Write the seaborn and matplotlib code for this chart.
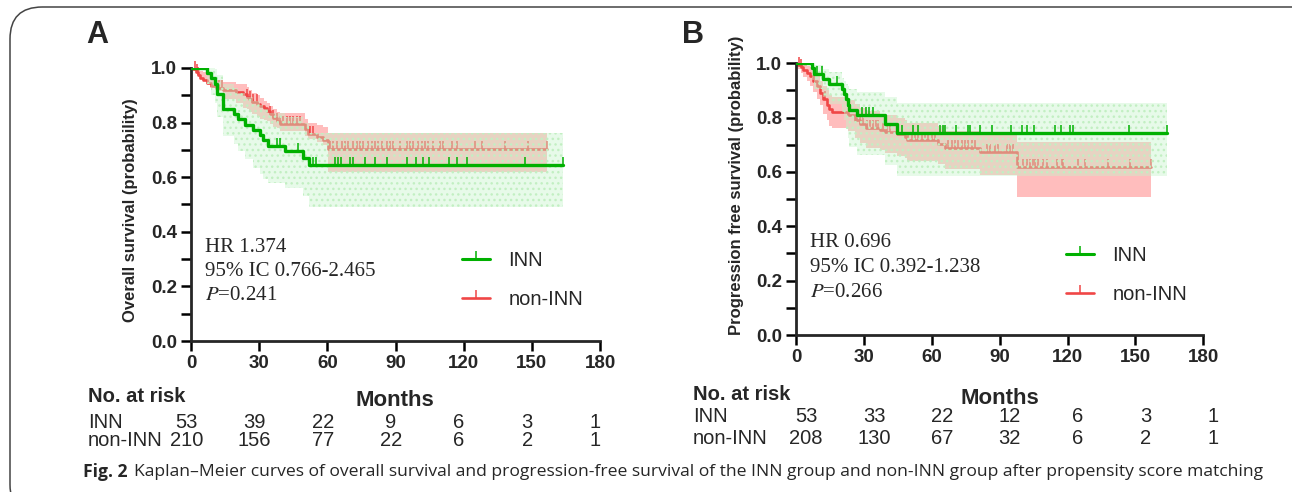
import numpy as np
import matplotlib
matplotlib.use("Agg")
import matplotlib.pyplot as plt
import seaborn as sns
from matplotlib.lines import Line2D
from matplotlib.patches import FancyBboxPatch
from matplotlib.transforms import blended_transform_factory

# ---- Panel A: overall survival ----
a_inn_t = [0, 7.0, 8.8, 10.5, 11.5, 13.9, 18.8, 20.5, 23.8, 27.4, 30.4, 31.8, 34.0, 41.4, 49.2, 51.9]
a_inn_s = [1.0, .981, .962, .943, .906, .850, .831, .812, .793, .774, .755, .736, .716, .696, .672, .645]
a_inn_lo = [1.0, .94, .90, .87, .82, .75, .72, .695, .665, .635, .61, .595, .578, .56, .53, .49]
a_inn_hi = [1.0, 1.0, 1.0, .995, .975, .94, .925, .91, .895, .88, .865, .85, .835, .82, .80, .763]
a_inn_end = 163.9
a_inn_cens = [37.7, 39.2, 47.2, 53.8, 55.0, 63.4, 64.8, 66.0, 70.0, 71.2, 76.6, 81.0, 86.4,
              95.2, 99.0, 102.3, 104.9, 113.7, 116.9, 121.3, 147.0, 163.9]

a_non_t = [0, 1.0, 2.0, 3.0, 4.0, 5.5, 7.0, 9.0, 11.0, 14.2, 20.0, 23.0, 24.5, 25.5, 27.0,
           29.0, 30.5, 32.0, 33.3, 34.8, 36.0, 37.7, 39.2, 50.2, 51.6, 55.3, 58.2, 60.4]
a_non_s = [1.0, .995, .985, .975, .965, .955, .945, .935, .925, .918, .912, .905, .895, .885, .875,
           .868, .86, .852, .843, .83, .818, .805, .795, .775, .76, .748, .735, .702]
a_non_lo = [1.0, .99, .98, .97, .962, .955, .948, .93, .915, .885, .87, .855, .85, .84, .83,
            .822, .815, .81, .805, .795, .785, .779, .77, .751, .74, .728, .718, .62]
a_non_hi = [1.0, 1.0, 1.0, 1.0, .99, .985, .975, .965, .955, .948, .943, .94, .93, .92, .91,
            .9, .89, .88, .87, .862, .85, .838, .835, .815, .8, .79, .785, .763]
a_non_end = 156.5
a_non_cens = [1.8, 2.5, 3.2, 12.5, 13.5, 24.5, 26.0, 27.4, 28.9, 34.8, 36.2, 37.7, 39.2, 40.6,
              42.1, 43.6, 45.0, 46.5, 48.0, 52.4, 53.8, 61.2, 62.6, 64.1, 66.3, 67.8, 69.2,
              71.5, 72.9, 74.4, 75.6, 78.0, 79.5, 81.0, 82.5, 83.9, 86.1, 87.6, 89.1, 92.0,
              94.9, 96.4, 97.9, 100.1, 101.5, 103.0, 104.5, 106.7, 109.6, 111.1, 114.7,
              116.9, 125.0, 127.9, 138.2, 148.5, 156.5]

# ---- Panel B: progression free survival ----
b_inn_t = [0, 6.9, 8.0, 12.1, 14.7, 20.2, 21.3, 22.2, 23.0, 23.6, 26.8, 39.3, 44.5]
b_inn_s = [1.0, .981, .962, .943, .924, .905, .886, .867, .848, .829, .808, .778, .745]
b_inn_lo = [1.0, .94, .905, .875, .85, .82, .79, .76, .725, .692, .662, .625, .585]
b_inn_hi = [1.0, 1.0, .995, .98, .968, .945, .935, .925, .915, .905, .895, .876, .854]
b_inn_end = 164.1
b_inn_cens = [9.1, 11.3, 18.0, 29.0, 30.9, 32.4, 33.9, 46.7, 51.8, 54.1, 63.6, 64.8, 65.8,
              70.7, 76.1, 76.9, 81.3, 86.5, 95.0, 99.7, 101.9, 105.3, 114.5, 117.1, 121.1,
              122.3, 147.3, 164.1]

b_non_t = [0, 1.0, 2.0, 3.2, 4.7, 6.2, 7.7, 9.1, 10.6, 12.1, 13.6, 14.7, 15.8, 23.1, 26.1,
           28.3, 30.9, 37.1, 39.3, 44.5, 48.2, 48.9, 62.9, 65.8, 81.3, 97.5]
b_non_s = [1.0, .995, .985, .975, .965, .952, .935, .915, .892, .868, .848, .830, .821, .809,
           .792, .775, .762, .754, .746, .738, .727, .716, .704, .690, .674, .62]
b_non_lo = [1.0, .98, .965, .95, .935, .915, .895, .87, .845, .815, .79, .77, .762, .75, .725,
            .705, .69, .68, .67, .66, .65, .64, .628, .612, .588, .508]
b_non_hi = [1.0, 1.0, 1.0, .995, .99, .985, .97, .955, .935, .915, .9, .885, .875, .865, .85,
            .835, .825, .815, .81, .8, .79, .78, .768, .752, .74, .711]
b_non_end = 156.9
b_non_cens = [1.5, 2.2, 12.8, 26.8, 28.3, 29.8, 31.5, 32.7, 34.2, 35.4, 36.4, 38.3, 40.1, 41.5,
              49.6, 51.1, 52.6, 54.0, 55.5, 57.0, 58.5, 59.9, 61.4, 67.3, 68.8, 70.3, 71.7,
              73.2, 74.7, 76.1, 77.6, 79.1, 84.3, 85.7, 87.9, 89.4, 93.1, 94.6, 95.7, 100.5,
              102.2, 103.4, 104.9, 105.6, 107.1, 109.3, 110.8, 115.2, 117.4, 118.1, 124.8,
              127.7, 138.0, 147.6, 156.9]

# risk tables
months = [0, 30, 60, 90, 120, 150, 180]
a_risk_inn = [53, 39, 22, 9, 6, 3, 1]
a_risk_non = [210, 156, 77, 22, 6, 2, 1]
b_risk_inn = [53, 33, 22, 12, 6, 3, 1]
b_risk_non = [208, 130, 67, 32, 6, 2, 1]

a_stats = ["HR 1.374", "95% IC 0.766-2.465", "0.241"]
b_stats = ["HR 0.696", "95% IC 0.392-1.238", "0.266"]

GREEN = "#00b000"
RED = "#f04646"
PINK = "#ffbdbd"
GBAND = (199 / 255, 243 / 255, 203 / 255)
SANS = "Liberation Sans"
SERIF = "Liberation Serif"

sns.set_style("ticks")
plt.rcParams["font.family"] = [SANS, "DejaVu Sans"]
plt.rcParams["hatch.linewidth"] = 1.0

fig = plt.figure(figsize=(12.92, 4.92), dpi=100)

# rounded frame of the figure panel
frame = FancyBboxPatch((10 / 1292, -0.05), 1.2, 1 - 7 / 492 + 0.05,
                       boxstyle="round,pad=0,rounding_size=0.025",
                       transform=fig.transFigure, fill=False, ec="#444444", lw=1.1,
                       mutation_aspect=2.6)
fig.patches.append(frame)


def steps(t, v, end):
    return list(t) + [end], list(v) + [v[-1]]


def km(ax, t, s, lo, hi, end, cens, line_color, band=None, lw=2.0):
    tt, ss = steps(t, s, end)
    _, ll = steps(t, lo, end)
    _, hh = steps(t, hi, end)
    z = 2
    if band is not None:
        col, alpha = band
        ax.fill_between(tt, ll, hh, step="post", color=col, alpha=alpha, lw=0, zorder=3)
        ax.fill_between(tt, ll, hh, step="post", facecolor="none", edgecolor="#c2efc2",
                        hatch="...", lw=0, zorder=3)
        z = 5
    sns.lineplot(x=tt, y=ss, ax=ax, color=line_color, lw=lw, drawstyle="steps-post",
                 estimator=None, sort=False, zorder=z)
    idx = np.searchsorted(t, cens, side="right") - 1
    ax.plot(cens, np.array(s)[idx], ls="none", marker=2, ms=6, mew=1.1,
            color=line_color, clip_on=False, zorder=z)


def panel(ax, data_inn, data_non, stats, stat_y, ylabel, ylab_xy, leg_xy):
    # red (non-INN) first, green band drawn on top with transparency
    t, s, lo, hi, end, cens = data_non
    tt, _ = steps(t, s, end)
    ax.fill_between(tt, steps(t, lo, end)[1], steps(t, hi, end)[1], step="post",
                    color=PINK, lw=0, zorder=1)
    km(ax, t, s, lo, hi, end, cens, RED, band=None, lw=1.9)
    t, s, lo, hi, end, cens = data_inn
    km(ax, t, s, lo, hi, end, cens, GREEN, band=(GBAND, 0.41), lw=2.4)

    ax.set_xlim(0, 180)
    ax.set_ylim(0, 1.0)
    ax.set_xticks(months)
    ax.set_yticks([0, 0.2, 0.4, 0.6, 0.8, 1.0])
    ax.set_yticks(np.arange(0.1, 1.0, 0.2), minor=True)
    ax.set_yticklabels(["0.0", "0.2", "0.4", "0.6", "0.8", "1.0"])
    for sp in ["top", "right"]:
        ax.spines[sp].set_visible(False)
    for sp in ["left", "bottom"]:
        ax.spines[sp].set_linewidth(2.0)
    ax.tick_params(which="both", length=7, width=1.8, color="black")
    ax.tick_params(labelsize=13.5, pad=3)
    for lab in ax.get_xticklabels() + ax.get_yticklabels():
        lab.set_fontweight("bold")
    ax.set_ylabel(ylabel, fontsize=12, fontweight="bold", va="center")
    ax.yaxis.set_label_coords(*ylab_xy)
    ax.set_xlabel("")
    ax.patch.set_alpha(0)

    ax.text(0.034, stat_y[0], stats[0], transform=ax.transAxes, family=SERIF, fontsize=15,
            va="center")
    ax.text(0.034, stat_y[1], stats[1], transform=ax.transAxes, family=SERIF, fontsize=15,
            va="center")
    ax.text(0.034, stat_y[2], "$P$=" + stats[2], transform=ax.transAxes, family=SERIF,
            fontsize=15, va="center", math_fontfamily="stix")

    handles = [Line2D([0], [0], color=GREEN, lw=2.2, marker=2, ms=6, mew=1.1),
               Line2D([0], [0], color=RED, lw=1.9, marker=2, ms=6, mew=1.1)]
    fig.legend(handles, ["INN", "non-INN"], loc="center left",
               bbox_to_anchor=(leg_xy[0] / 1292, 1 - leg_xy[1] / 492),
               frameon=False, fontsize=14.5, handlelength=1.4, handletextpad=0.9,
               labelspacing=0.95, borderpad=0, borderaxespad=0, numpoints=1)


axA = fig.add_axes([191 / 1292, 1 - 341 / 492, 409 / 1292, 273 / 492])
axB = fig.add_axes([796 / 1292, 1 - 335 / 492, 407.3 / 1292, 271.7 / 492])

panel(axA,
      (a_inn_t, a_inn_s, a_inn_lo, a_inn_hi, a_inn_end, a_inn_cens),
      (a_non_t, a_non_s, a_non_lo, a_non_hi, a_non_end, a_non_cens),
      a_stats, (0.341, 0.253, 0.165), "Overall survival (probability)", (-0.149, 0.48),
      (462, 280))
panel(axB,
      (b_inn_t, b_inn_s, b_inn_lo, b_inn_hi, b_inn_end, b_inn_cens),
      (b_non_t, b_non_s, b_non_lo, b_non_hi, b_non_end, b_non_cens),
      b_stats, (0.339, 0.247, 0.158), "Progression free survival (probability)",
      (-0.145, 0.55), (1066, 275))

fig.text(97 / 1292, 1 - 35 / 492, "A", fontsize=22, fontweight="bold", va="center", ha="center")
fig.text(693 / 1292, 1 - 35 / 492, "B", fontsize=22, fontweight="bold", va="center", ha="center")


def risk_table(ax, x0, ys, inn, non, shift, months_x):
    tr = blended_transform_factory(ax.transData, fig.transFigure)
    fig.text(x0 / 1292, 1 - ys[0] / 492, "No. at risk", fontsize=14.5, fontweight="bold",
             va="center")
    fig.text(months_x / 1292, 1 - (ys[0] + 3) / 492, "Months", fontsize=16,
             fontweight="bold", va="center", ha="center")
    fig.text(x0 / 1292, 1 - ys[1] / 492, "INN", fontsize=14.5, va="center")
    fig.text(x0 / 1292, 1 - ys[2] / 492, "non-INN", fontsize=14.5, va="center")
    for m, a, b in zip(months, inn, non):
        ax.text(m + shift, 1 - ys[1] / 492, str(a), transform=tr, fontsize=14.5,
                ha="center", va="center", clip_on=False)
        ax.text(m + shift, 1 - ys[2] / 492, str(b), transform=tr, fontsize=14.5,
                ha="center", va="center", clip_on=False)


risk_table(axA, 88, (397, 422, 441), a_risk_inn, a_risk_non, -2.0, 395)
risk_table(axB, 693, (395, 416, 438), b_risk_inn, b_risk_non, 4.5, 1000)

fig.text(83 / 1292, 1 - 472 / 492, "Fig. 2", fontsize=12.6, fontweight="bold", va="center",
         family="Open Sans")
fig.text(134 / 1292, 1 - 472 / 492,
         "Kaplan\u2013Meier curves of overall survival and progression-free survival of the "
         "INN group and non-INN group after propensity score matching",
         fontsize=12.6, va="center", family="Open Sans")

fig.savefig("out.png", dpi=100)
